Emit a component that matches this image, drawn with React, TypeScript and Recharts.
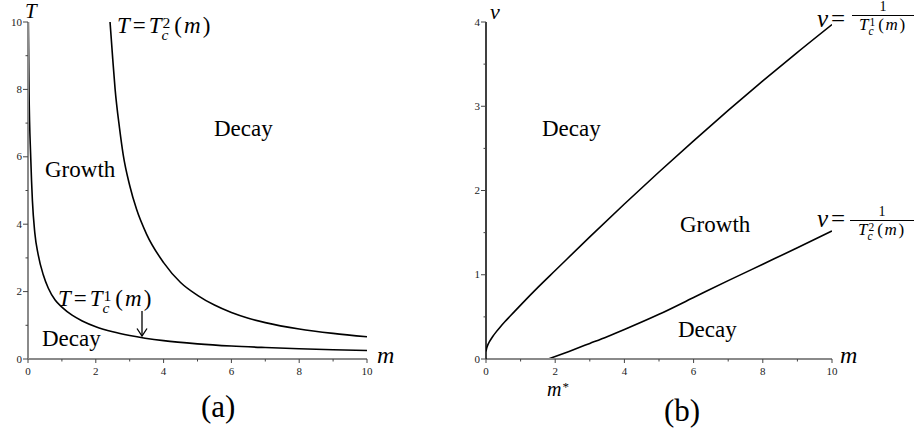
import React from "react";
import { LineChart, Line, XAxis, YAxis } from "recharts";

// panel (a): critical temperatures T against m
const t1Mass = [0.01, 0.03, 0.08, 0.13, 0.2, 0.3, 0.45, 0.6, 0.8, 1, 1.3, 1.6, 2, 2.5, 3, 4, 5, 6, 7, 8, 9, 10];
const t1Temp = [10, 8, 6, 4.7, 3.75, 3.1, 2.5, 2.1, 1.75, 1.54, 1.3, 1.13, 0.96, 0.81, 0.7, 0.545, 0.45, 0.385, 0.34, 0.303, 0.275, 0.252];
const t2Mass = [2.42, 2.5, 2.57, 2.7, 2.81, 3, 3.2, 3.5, 4, 4.5, 5, 5.5, 6, 6.5, 7, 8, 9, 10];
const t2Temp = [10, 8.9, 8, 6.85, 6.05, 5.15, 4.45, 3.7, 2.86, 2.27, 1.89, 1.6, 1.38, 1.21, 1.08, 0.89, 0.76, 0.66];

// panel (b): nu = 1/T against m
const nu1Mass = [0, 0.02, 0.05, 0.1, 0.2, 0.3, 0.4, 0.55, 0.7, 1, 1.5, 2, 3, 4, 5, 6, 7, 8, 9, 10];
const nu1Vals = [0.09, 0.13, 0.165, 0.205, 0.27, 0.325, 0.375, 0.445, 0.51, 0.64, 0.85, 1.05, 1.45, 1.84, 2.22, 2.59, 2.95, 3.3, 3.64, 3.97];
const nu2Mass = [1.8, 2.4, 3, 3.5, 4, 5, 6, 7, 8, 9, 10];
const nu2Vals = [0, 0.09, 0.185, 0.265, 0.35, 0.53, 0.73, 0.93, 1.125, 1.32, 1.52];

const mTicks = [0, 1, 2, 3, 4, 5, 6, 7, 8, 9, 10];
const tTicks = [0, 1, 2, 3, 4, 5, 6, 7, 8, 9, 10];
const nuTicks = [0, 0.5, 1, 1.5, 2, 2.5, 3, 3.5, 4];

const SERIF = '"Liberation Serif", "Times New Roman", serif';
const AXIS_GRAY = "#8a8a8a";

const toPoints = (xs: number[], ys: number[]) => xs.map((m, i) => ({ m, v: ys[i] }));

const t1Data = toPoints(t1Mass, t1Temp);
const t2Data = toPoints(t2Mass, t2Temp);
const nu1Data = toPoints(nu1Mass, nu1Vals);
const nu2Data = toPoints(nu2Mass, nu2Vals);

const XTick = ({ x, y, payload }: any) => {
  const major = payload.value % 2 === 0;
  return (
    <g>
      <line x1={x} x2={x} y1={y} y2={y + (major ? 4 : 2.5)} stroke="#444" strokeWidth={1} />
      {major && (
        <text x={x} y={y + 16} textAnchor="middle" fontSize={11} fontFamily={SERIF} fill="#222">
          {payload.value}
        </text>
      )}
    </g>
  );
};

const makeYTick = (step: number) => ({ x, y, payload }: any) => {
  const major = Math.abs(payload.value / step - Math.round(payload.value / step)) < 1e-6;
  return (
    <g>
      <line x1={x - (major ? 5 : 2.5)} x2={x} y1={y} y2={y} stroke="#444" strokeWidth={1} />
      {major && (
        <text x={x - 6} y={y + 3.5} textAnchor="end" fontSize={11} fontFamily={SERIF} fill="#222">
          {payload.value}
        </text>
      )}
    </g>
  );
};

// text placed by its baseline
const Txt = ({ x, base, size, italic, children }: any) => (
  <div
    style={{
      position: "absolute",
      left: x,
      top: base - 0.8375 * size,
      fontSize: size,
      lineHeight: `${size}px`,
      fontFamily: SERIF,
      fontStyle: italic ? "italic" : "normal",
      whiteSpace: "nowrap",
      color: "#000",
    }}
  >
    {children}
  </div>
);

// T with stacked superscript k and subscript c, then (m)
const Tc = ({ k, size, gap }: { k: string; size: number; gap: number }) => {
  const s = size * 0.68;
  return (
    <>
      <i>T</i>
      <span style={{ display: "inline-block", position: "relative", width: s * 0.62, height: 0 }}>
        <span style={{ position: "absolute", left: 1, top: -size * 0.2 - 0.8375 * s, fontSize: s, lineHeight: `${s}px`, fontStyle: "normal" }}>
          {k}
        </span>
        <span style={{ position: "absolute", left: 0, top: size * 0.3 - 0.8375 * s, fontSize: s, lineHeight: `${s}px`, fontStyle: "italic" }}>
          c
        </span>
      </span>
      <span style={{ marginLeft: gap, letterSpacing: gap * 0.7 }}>
        (<i>m</i>)
      </span>
    </>
  );
};

const Eq = () => <span style={{ margin: "0 3px" }}>=</span>;

const Fraction = ({ left, width, lineY, numBase, denBase, k }: any) => (
  <>
    <div style={{ position: "absolute", left, top: lineY, width, height: 1, background: "#000" }} />
    <div style={{ position: "absolute", left, width, top: numBase - 0.8375 * 14, fontSize: 14, lineHeight: "14px", fontFamily: SERIF, textAlign: "center" }}>
      1
    </div>
    <div style={{ position: "absolute", left, width, top: denBase - 0.8375 * 17, fontSize: 17, lineHeight: "17px", fontFamily: SERIF, textAlign: "center", whiteSpace: "nowrap" }}>
      <Tc k={k} size={17} gap={2.5} />
    </div>
  </>
);

const curve = (data: any[], key: string) => (
  <Line
    key={key}
    data={data}
    dataKey="v"
    type="monotone"
    stroke="#000"
    strokeWidth={1.6}
    dot={false}
    activeDot={false}
    isAnimationActive={false}
  />
);

export default function App() {
  return (
    <div style={{ position: "absolute", left: 0, top: 0, width: 921, height: 432, background: "#fff", overflow: "hidden" }}>
      <div style={{ position: "absolute", left: 0, top: 0 }}>
        <LineChart width={400} height={432} margin={{ top: 22, right: 33, bottom: 43, left: 0 }}>
          <XAxis
            type="number"
            dataKey="m"
            domain={[0, 10]}
            ticks={mTicks}
            interval={0}
            height={30}
            tickSize={0}
            tickMargin={0}
            tick={<XTick />}
            axisLine={{ stroke: AXIS_GRAY, strokeWidth: 2 }}
            allowDataOverflow
          />
          <YAxis
            type="number"
            domain={[0, 10]}
            ticks={tTicks}
            interval={0}
            width={28}
            tickSize={0}
            tickMargin={0}
            tick={makeYTick(2)}
            axisLine={{ stroke: AXIS_GRAY, strokeWidth: 2 }}
            allowDataOverflow
          />
          {curve(t1Data, "t1")}
          {curve(t2Data, "t2")}
        </LineChart>
      </div>

      <div style={{ position: "absolute", left: 458, top: 0 }}>
        <LineChart width={400} height={432} margin={{ top: 22, right: 26, bottom: 43, left: 0 }}>
          <XAxis
            type="number"
            dataKey="m"
            domain={[0, 10]}
            ticks={mTicks}
            interval={0}
            height={30}
            tickSize={0}
            tickMargin={0}
            tick={<XTick />}
            axisLine={{ stroke: AXIS_GRAY, strokeWidth: 2 }}
            allowDataOverflow
          />
          <YAxis
            type="number"
            domain={[0, 4]}
            ticks={nuTicks}
            interval={0}
            width={28}
            tickSize={0}
            tickMargin={0}
            tick={makeYTick(1)}
            axisLine={{ stroke: "#000", strokeWidth: 1.5 }}
            allowDataOverflow
          />
          {curve(nu1Data, "nu1")}
          {curve(nu2Data, "nu2")}
        </LineChart>
      </div>

      {/* arrow pointing at T_c^1 */}
      <svg width={921} height={432} style={{ position: "absolute", left: 0, top: 0, pointerEvents: "none" }}>
        <line x1={142} y1={311} x2={142} y2={336} stroke="#000" strokeWidth={1.3} />
        <polyline points="137,328.5 142,336 147,328.5" fill="none" stroke="#000" strokeWidth={1.3} />
      </svg>

      {/* panel (a) labels */}
      <Txt x={25} base={19} size={21} italic>T</Txt>
      <Txt x={377} base={363} size={24} italic>m</Txt>
      <Txt x={117} base={33} size={23}>
        <i>T</i>
        <Eq />
        <Tc k="2" size={23} gap={3} />
      </Txt>
      <Txt x={214} base={136} size={23}>Decay</Txt>
      <Txt x={45} base={177} size={23}>Growth</Txt>
      <Txt x={58} base={306} size={23}>
        <i>T</i>
        <Eq />
        <Tc k="1" size={23} gap={3} />
      </Txt>
      <Txt x={42} base={346} size={23}>Decay</Txt>
      <Txt x={201} base={417} size={31}>(a)</Txt>

      {/* panel (b) labels */}
      <Txt x={490} base={19} size={22} italic>ν</Txt>
      <Txt x={840} base={363} size={24} italic>m</Txt>
      <Txt x={817} base={27} size={25}>
        <i>ν</i>
        <Eq />
      </Txt>
      <Txt x={542} base={136} size={23}>Decay</Txt>
      <Txt x={680} base={232} size={23}>Growth</Txt>
      <Txt x={817} base={227} size={25}>
        <i>ν</i>
        <Eq />
      </Txt>
      <Txt x={678} base={337} size={23}>Decay</Txt>
      <Txt x={547} base={396} size={20} italic>
        m<span style={{ position: "relative", top: -5, fontSize: 13, fontStyle: "normal", marginLeft: 1 }}>*</span>
      </Txt>
      <Txt x={664} base={421} size={31}>(b)</Txt>
      <Fraction left={852} width={62} lineY={15} numBase={12} denBase={30.5} k="1" />
      <Fraction left={850} width={64} lineY={220} numBase={217} denBase={235.5} k="2" />
    </div>
  );
}
